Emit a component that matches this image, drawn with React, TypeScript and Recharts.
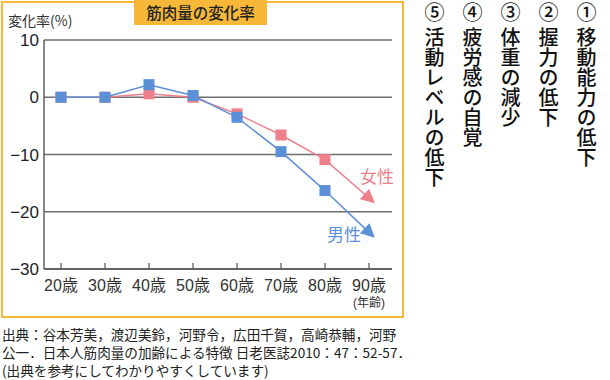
import { CartesianGrid, Line, LineChart, XAxis, YAxis } from "recharts";

const AGES = ["20歳", "30歳", "40歳", "50歳", "60歳", "70歳", "80歳", "90歳"];
const FEMALE = [0, 0, 0.6, 0, -2.9, -6.6, -10.9, -17.6];
const MALE = [0, 0, 2.2, 0.3, -3.5, -9.5, -16.3, -23.6];
const Y_TICKS = [10, 0, -10, -20, -30];

const NOTES = ["①移動能力の低下", "②握力の低下", "③体重の減少", "④疲労感の自覚", "⑤活動レベルの低下"];
const SOURCE = [
  "出典：谷本芳美，渡辺美鈴，河野令，広田千賀，高崎恭輔，河野",
  "公一．日本人筋肉量の加齢による特徴 日老医誌2010：47：52-57．",
  "(出典を参考にしてわかりやすくしています)",
];

const PINK = "#ee808c";
const BLUE = "#5b8fd6";
const ORANGE = "#f7b83a";
const FONT = '"Liberation Sans", "Noto Sans CJK JP", sans-serif';
const JP = '"Noto Sans CJK JP", sans-serif';

const data = AGES.map((age, i) => ({ age, female: FEMALE[i], male: MALE[i] }));

function Marker(props: any) {
  const { cx, cy, index, points, fill } = props;
  if (cx == null || cy == null) return null;
  if (index < AGES.length - 1) {
    return <rect key={`d${index}`} x={cx - 5.5} y={cy - 5.5} width={11} height={11} fill={fill} />;
  }
  // last point: arrow head in the direction of the final segment
  let ang = Math.PI / 4;
  if (points && points[index - 1]) {
    ang = Math.atan2(cy - points[index - 1].y, cx - points[index - 1].x);
  }
  const rot = (px: number, py: number) =>
    `${cx + px * Math.cos(ang) - py * Math.sin(ang)},${cy + px * Math.sin(ang) + py * Math.cos(ang)}`;
  return <polygon key={`d${index}`} points={`${rot(8, 0)} ${rot(-6, -7)} ${rot(-6, 7)}`} fill={fill} />;
}

function AgeTick(props: any) {
  const { x, y, payload, index } = props;
  return (
    <g>
      <line x1={x} y1={y} x2={x} y2={y - 6} stroke="#555" strokeWidth={1.2} />
      <text x={x} y={y + 22} textAnchor="middle" fontSize={16} fill="#333" fontFamily={FONT}>
        {payload.value}
      </text>
      {index === AGES.length - 1 && (
        <text x={x} y={y + 38} textAnchor="middle" fontSize={12} fill="#333" fontFamily={FONT}>
          (年齢)
        </text>
      )}
    </g>
  );
}

export default function App() {
  return (
    <div style={{ position: "absolute", left: 0, top: 0, width: 610, height: 380, background: "#fff", fontFamily: FONT }}>
      <div
        style={{
          position: "absolute",
          left: 1,
          top: 1,
          width: 399,
          height: 313,
          border: `2px solid ${ORANGE}`,
        }}
      />
      <div
        style={{
          position: "absolute",
          left: 134,
          top: 0,
          width: 133,
          height: 25,
          background: ORANGE,
          color: "#222",
          fontSize: 15.5,
          fontWeight: 500,
          lineHeight: "25px",
          textAlign: "center",
          fontFamily: JP,
        }}
      >
        筋肉量の変化率
      </div>
      <div style={{ position: "absolute", left: 8, top: 12, fontSize: 14, color: "#333", fontFamily: JP, lineHeight: "16px" }}>
        変化率(%)
      </div>
      <div style={{ position: "absolute", left: 0, top: 0 }}>
        <LineChart width={402} height={320} data={data} margin={{ top: 40, right: 10, bottom: 21, left: 4 }}>
          <CartesianGrid vertical={false} stroke="#6e6e6e" strokeWidth={1.6} />
          <XAxis
            dataKey="age"
            padding={{ left: 17, right: 23 }}
            height={30}
            tickSize={0}
            tickMargin={0}
            tickLine={false}
            axisLine={{ stroke: "#555", strokeWidth: 1.4 }}
            tick={<AgeTick />}
            interval={0}
          />
          <YAxis
            width={40}
            domain={[-30, 10]}
            ticks={Y_TICKS}
            tickLine={false}
            tickSize={0}
            tickMargin={5}
            axisLine={{ stroke: "#555", strokeWidth: 1.4 }}
            tickFormatter={(v: number) => (v < 0 ? `−${Math.abs(v)}` : `${v}`)}
            tick={{ fontSize: 17, fill: "#222", fontFamily: FONT }}
          />
          <Line
            dataKey="female"
            stroke={PINK}
            strokeWidth={1.5}
            dot={(p: any) => <Marker {...p} fill={PINK} />}
            isAnimationActive={false}
          />
          <Line
            dataKey="male"
            stroke={BLUE}
            strokeWidth={1.5}
            dot={(p: any) => <Marker {...p} fill={BLUE} />}
            isAnimationActive={false}
          />
        </LineChart>
      </div>
      <div style={{ position: "absolute", left: 360, top: 166, fontSize: 17, color: PINK, fontFamily: JP, lineHeight: "20px" }}>
        女性
      </div>
      <div style={{ position: "absolute", left: 327, top: 224, fontSize: 17, color: BLUE, fontFamily: JP, lineHeight: "20px" }}>
        男性
      </div>
      <div
        style={{
          position: "absolute",
          right: 5,
          top: 2,
          height: 200,
          writingMode: "vertical-rl",
          fontSize: 20,
          lineHeight: "38px",
          fontWeight: 500,
          color: "#111",
          fontFamily: JP,
        }}
      >
        {NOTES.map((n) => (
          <div key={n}>
            <span style={{ marginInlineEnd: 5 }}>{n.slice(0, 1)}</span>
            {n.slice(1)}
          </div>
        ))}
      </div>
      <div
        style={{
          position: "absolute",
          left: 2,
          top: 325,
          fontSize: 13.6,
          lineHeight: "18px",
          color: "#222",
          whiteSpace: "nowrap",
          fontFamily: JP,
        }}
      >
        {SOURCE.map((s) => (
          <div key={s}>{s}</div>
        ))}
      </div>
    </div>
  );
}
